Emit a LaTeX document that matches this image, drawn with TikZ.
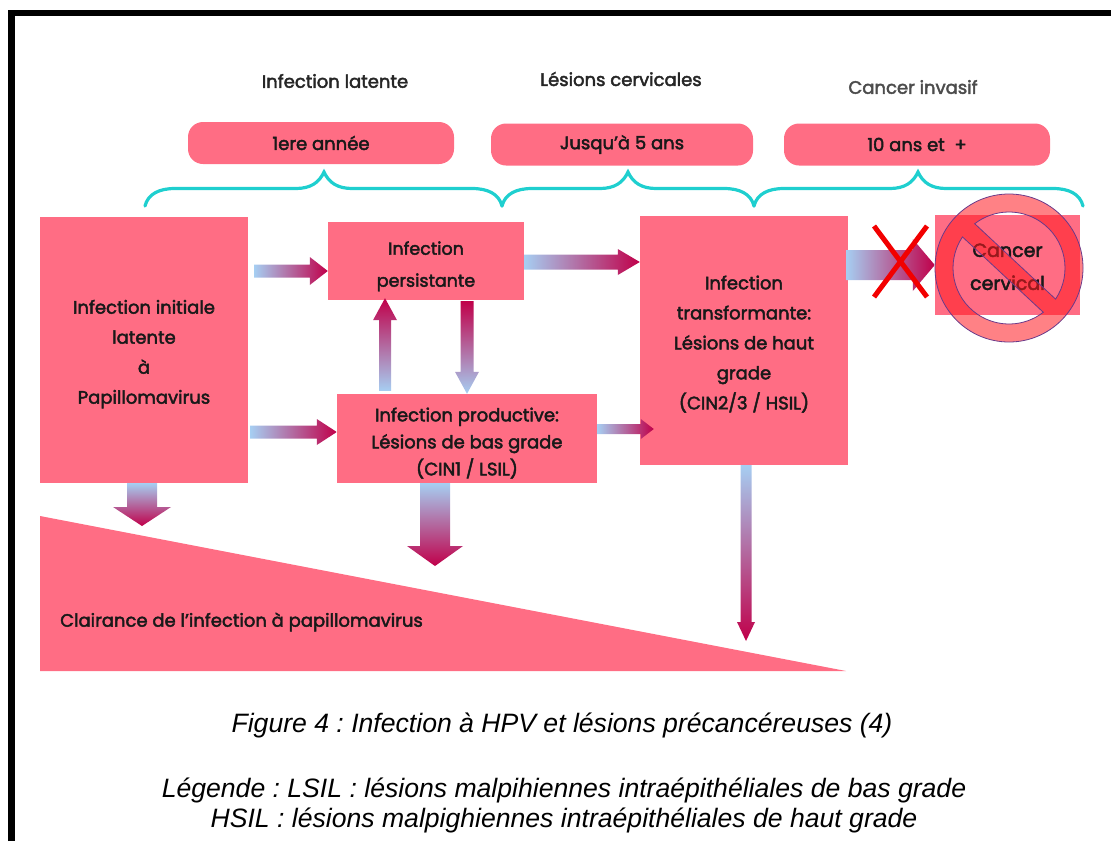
\documentclass[tikz,border=0pt]{standalone}
\usepackage{fontspec}
\setmainfont{Poppins}[FakeBold=2.4]
\newfontfamily\capfont{Liberation Sans}
\usepackage{tikz}
\usetikzlibrary{calc, positioning}
\definecolor{boxpink}{HTML}{FF6D84}
\definecolor{arrowfrom}{HTML}{A6CEF2}
\definecolor{arrowto}{HTML}{C0004A}
\definecolor{bracecol}{HTML}{1FCFCF}
\definecolor{signred}{HTML}{FF1A20}
\definecolor{signline}{HTML}{6A3A8A}
% taller first line, pushes the text of a box down
\newcommand{\lowered}[1]{\rule{0pt}{#1}}
% style, from, to, half shaft, half head, head length
\newcommand{\blockarrow}[6]{
	\coordinate (hb) at ($(#3)!#6!(#2)$);
	\path[#1] ($(#2)!#4!90:(#3)$) -- ($(hb)!#4!90:(#3)$) -- ($(hb)!#5!90:(#3)$) -- (#3) -- ($(hb)!#5!-90:(#3)$) -- ($(hb)!#4!-90:(#3)$) -- ($(#2)!#4!-90:(#3)$) -- cycle;
}
\begin{document}
\begin{tikzpicture}[x=1pt,y=-1pt,
	box/.style={fill=boxpink, inner sep=0pt, align=center, font=\fontsize{18}{30}\selectfont, text=black!90},
	pill/.style={fill=boxpink, rounded corners=15pt, inner sep=0pt, minimum height=42pt, font=\fontsize{18}{20}\selectfont, text=black!90},
	phase/.style={inner sep=0pt, font=\fontsize{18}{20}\selectfont, text=black!85},
	legend/.style={inner sep=0pt, align=center, font=\capfont\itshape\fontsize{26.6}{30}\selectfont\frenchspacing, text=black},
	toright/.style={left color=arrowfrom, right color=arrowto},
	toup/.style={bottom color=arrowfrom, top color=arrowto},
	todown/.style={top color=arrowfrom, bottom color=arrowto}]
	\useasboundingbox (0,0) rectangle (1111,841);
	% frame
	\draw[line width=6.3pt] (11.5,841) -- (11.5,13.3) -- (1111,13.3);

	% headers
	\node[phase] (latente) at (335,81) {Infection latente};
	\node[phase] (lesions) at (621,79) {Lésions cervicales};
	\node[phase, text=black!70] (invasif) at (913,87) {Cancer invasif};
	\node[pill, minimum width=266pt] (annee) at (321,143) {1ere année};
	\node[pill, minimum width=262pt] (cinq) at (622,144.5) {Jusqu'à 5 ans};
	\node[pill, minimum width=266pt] (dix) at (917,144.5) {10 ans et~~+};

	% braces
	\foreach \xa/\xm/\xb in {145/324/502, 502/628/754, 754/918/1083} {
		\draw[bracecol, line width=3.2pt, line cap=round] (\xa,206) .. controls (\xa+3,194) and (\xa+14,188.5) .. (\xa+30,188.5) -- (\xm-28,188.5) .. controls (\xm-14,188.5) and (\xm-5,183) .. (\xm,172) .. controls (\xm+5,183) and (\xm+14,188.5) .. (\xm+28,188.5) -- (\xb-30,188.5) .. controls (\xb-14,188.5) and (\xb-3,194) .. (\xb,206);
	}

	% clearance wedge
	\fill[boxpink] (40,516) -- (846,671) -- (40,671) -- cycle;
	\node[anchor=west, inner sep=0pt, font=\fontsize{18}{20}\selectfont, text=black!90] (clairance) at (60,622) {Clairance de l'infection à papillomavirus};
	\coordinate (clairA) at (142,526);
	\coordinate (clairB) at (435,566);
	\coordinate (clairC) at (746,641);

	% boxes
	\node[box, minimum width=208pt, minimum height=266pt] (initiale) at (144,350) {\lowered{22pt}Infection initiale\\latente\\à\\Papillomavirus};
	\node[box, minimum width=196pt, minimum height=78pt, font=\fontsize{17.5}{32}\selectfont] (persist) at (426,261) {\lowered{24pt}Infection\\persistante};
	\node[box, minimum width=260pt, minimum height=89pt, font=\fontsize{18}{27}\selectfont] (prod) at (467,438.5) {\lowered{23pt}Infection productive:\\Lésions de bas grade\\(CIN1 / LSIL)};
	\node[box, minimum width=208pt, minimum height=249pt] (transf) at (744,340.5) {\lowered{21pt}Infection\\transformante:\\Lésions de haut\\grade\\(CIN2/3 / HSIL)};
	\node[box, minimum width=145pt, minimum height=100pt, font=\fontsize{19}{33}\selectfont] (cancer) at (1007.5,265) {\lowered{17pt}Cancer\\cervical};

	% arrows
	\blockarrow{toright}{[xshift=6pt,yshift=79pt]initiale.east}{[yshift=-10pt]persist.west}{6.5pt}{14pt}{18pt}
	\blockarrow{toright}{[xshift=2pt,yshift=-82pt]initiale.east}{[yshift=6.5pt]prod.west}{6.5pt}{13pt}{20pt}
	\blockarrow{toright}{[yshift=-1pt]persist.east}{[yshift=78.5pt]transf.west}{7.5pt}{13pt}{22pt}
	\blockarrow{toup}{[xshift=-82pt,yshift=3pt]prod.north}{[xshift=-41pt,yshift=2pt]persist.south}{6pt}{12pt}{22pt}
	\blockarrow{toup}{[xshift=41pt,yshift=-1pt]persist.south}{prod.north}{6.5pt}{12pt}{22pt}
	\blockarrow{toright}{[yshift=9.5pt]prod.east}{[xshift=14pt,yshift=-88.5pt]transf.west}{5pt}{10pt}{13pt}
	\blockarrow{todown}{[xshift=-2pt]initiale.south}{clairA}{15pt}{29pt}{19pt}
	\blockarrow{todown}{[xshift=-32pt]prod.south}{clairB}{15pt}{28pt}{20pt}
	\blockarrow{todown}{[xshift=2pt]transf.south}{clairC}{5.5pt}{9pt}{19pt}
	\blockarrow{toright}{[xshift=-2pt,yshift=75.5pt]transf.east}{cancer.west}{15pt}{26pt}{22pt}

	% red cross
	\draw[red!95!black, line width=5pt] (874,226) -- (927,297);
	\draw[red!95!black, line width=5pt] (927,226) -- (874,297);

	% no-entry sign
	\begin{scope}[shift={(1009,268)}, x=1pt, y=1pt]
		\path[fill=signred, fill opacity=.55, draw=signline, line width=.8pt, even odd rule] (0,0) circle (74) (-33.75:56) arc (-33.75:127.75:56) -- cycle (146.25:56) arc (146.25:307.75:56) -- cycle;
	\end{scope}

	% caption
	\node[legend] (figure) at (562,725) {Figure 4 : Infection à HPV et lésions précancéreuses (4)};
	\node[legend] (legende) at (564,805.5) {Légende : LSIL : lésions malpihiennes intraépithéliales de bas grade\\HSIL : lésions malpighiennes intraépithéliales de haut grade};
\end{tikzpicture}
\end{document}
